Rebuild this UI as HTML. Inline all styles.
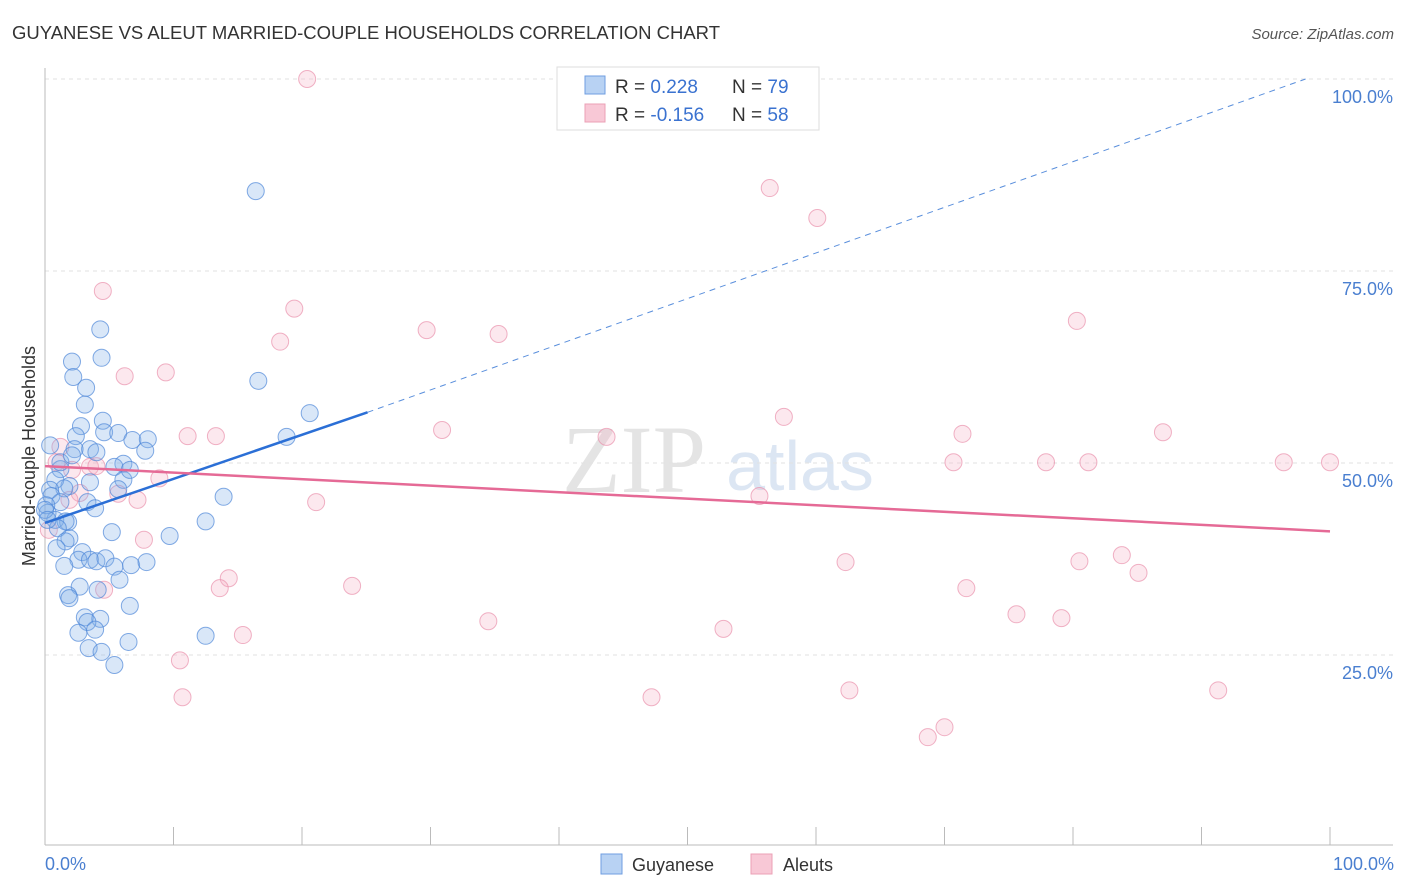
<!DOCTYPE html>
<html><head><meta charset="utf-8"><style>
body{margin:0;background:#fff;font-family:"Liberation Sans",sans-serif}
svg{display:block}
</style></head><body>
<svg id="c" width="1406" height="892" font-family="Liberation Sans, sans-serif">
<text x="12" y="39" font-size="18" fill="#333" textLength="708" lengthAdjust="spacingAndGlyphs">GUYANESE VS ALEUT MARRIED-COUPLE HOUSEHOLDS CORRELATION CHART</text>
<text x="1394" y="39" font-size="15" fill="#555" text-anchor="end" font-style="italic">Source: ZipAtlas.com</text>
<text x="634" y="492" font-size="96" fill="#e4e4e4" font-family="Liberation Serif, serif" text-anchor="middle">ZIP</text>
<text x="800" y="490" font-size="70" fill="#dce6f3" text-anchor="middle">atlas</text>
<g id="grid"></g><g id="axes"></g><g id="pts"></g><g id="trend"></g>
<text x="35" y="456" font-size="18" fill="#333" text-anchor="middle" transform="rotate(-90 35 456)">Married-couple Households</text>
<text x="45" y="870" font-size="18" fill="#4a7fd0">0.0%</text>
<text x="1394" y="870" font-size="18" fill="#4a7fd0" text-anchor="end">100.0%</text>
<g>
<rect x="557" y="67" width="262" height="63" fill="#fff" stroke="#ddd"/>
<rect x="585" y="76" width="20" height="18" fill="#b8d2f3" stroke="#6f9ee0"/>
<rect x="585" y="104" width="20" height="18" fill="#f8c8d6" stroke="#eba0b6"/>
<text x="615" y="93" font-size="19" fill="#333">R = <tspan fill="#3a72d0"> 0.228</tspan><tspan x="732">N = </tspan><tspan fill="#3a72d0">79</tspan></text>
<text x="615" y="121" font-size="19" fill="#333">R = <tspan fill="#3a72d0">-0.156</tspan><tspan x="732">N = </tspan><tspan fill="#3a72d0">58</tspan></text>
</g>
<g>
<rect x="601" y="854" width="21" height="20" fill="#b8d2f3" stroke="#6f9ee0"/>
<text x="632" y="871" font-size="18" fill="#333">Guyanese</text>
<rect x="751" y="854" width="21" height="20" fill="#f8c8d6" stroke="#eba0b6"/>
<text x="783" y="871" font-size="18" fill="#333">Aleuts</text>
</g>
</svg>
<script>
const yTicks=[100,75,50,25];
const yTickLabels=["100.0%","75.0%","50.0%","25.0%"];
const xTicks=[0,10,20,30,40,50,60,70,80,90,100];
const blueX=[4.3,4.4,2.1,2.2,3.2,3.1,4.5,2.8,2.4,4.6,5.7,6.8,8.0,7.8,3.5,4.0,2.3,6.1,5.4,1.2,6.1,3.5,5.7,1.9,0.8,1.5,0.4,0.5,3.3,1.2,0.2,0.8,1.8,1.6,1.0,5.2,1.9,1.6,0.9,2.9,2.6,1.5,3.5,4.0,4.7,5.4,6.7,7.9,5.8,2.7,4.1,1.8,1.9,6.6,3.1,4.3,3.3,2.6,3.9,6.5,3.4,4.4,5.4,9.7,12.5,13.9,12.5,16.4,16.6,18.8,20.6,0.4,0.1,0,0.2,1.2,2.1,3.9,6.6];
const blueY=[67.4,63.7,63.2,61.2,59.8,57.6,55.5,54.8,53.5,54.0,53.9,53.0,53.1,51.6,51.8,51.4,51.8,49.9,49.5,49.2,47.8,47.5,46.6,47.0,47.8,46.7,46.5,45.7,44.9,44.9,43.5,42.6,42.3,42.4,41.5,41.0,40.2,39.8,38.9,38.4,37.4,36.6,37.4,37.2,37.6,36.5,36.7,37.1,34.8,33.9,33.5,32.8,32.4,31.4,29.9,29.7,29.3,27.9,28.3,26.7,25.9,25.4,23.7,40.5,42.4,45.6,27.5,85.4,60.7,53.4,56.5,52.3,44.5,43.9,42.6,50.1,51.0,44.1,49.1];
const pinkX=[20.4,56.4,60.1,4.5,19.4,18.3,29.7,35.3,6.2,9.4,80.3,30.9,43.7,57.5,71.4,87.0,11.1,13.3,70.7,77.9,81.2,96.4,100,1.2,0.9,2.1,3.5,4.0,8.9,5.7,7.2,21.1,55.6,0.3,7.7,14.3,13.6,23.9,4.6,62.3,80.5,83.8,85.1,71.7,34.5,52.8,75.6,79.1,15.4,10.5,10.7,47.2,62.6,91.3,70.0,68.7,2.7,1.9];
const pinkY=[100,85.8,81.9,72.4,70.1,65.8,67.3,66.8,61.3,61.8,68.5,54.3,53.4,56.0,53.8,54.0,53.5,53.5,50.1,50.1,50.1,50.1,50.1,52.1,50.1,49.1,49.5,49.6,48.0,46.0,45.2,44.9,45.7,41.3,40.0,35.0,33.7,34.0,33.5,37.1,37.2,38.0,35.7,33.7,29.4,28.4,30.3,29.8,27.6,24.3,19.5,19.5,20.4,20.4,15.6,14.3,46.1,45.2];
const blueTrend=[42.2,56.6]; // value at x=0 and x=25.1
const blueTrendEndX=25.1;
const blueDashEnd=[98.1,100];
const pinkTrend=[49.6,41.1]; // at x=0 and x=100
const NS="http://www.w3.org/2000/svg";
const X=v=>45+v*12.85, Y=v=>847-v*7.68;
function mk(tag,attrs,parent){const e=document.createElementNS(NS,tag);for(const k in attrs)e.setAttribute(k,attrs[k]);document.getElementById(parent).appendChild(e);return e;}
yTicks.forEach((t,i)=>{
 const l=mk('line',{x1:45,x2:1393,y1:Y(t),y2:Y(t),stroke:'#e2e2e2','stroke-dasharray':'4,4'},'grid');
 
 
 const tx=mk('text',{x:1393,y:Y(t)+24,'font-size':18,fill:'#4a7fd0','text-anchor':'end'},'grid');
 tx.textContent=yTickLabels[i];
 
 
});
const ax=mk('line',{x1:45,x2:45,y1:68,y2:845,stroke:'#bbb'},'axes');


const bx=mk('line',{x1:45,x2:1393,y1:845,y2:845,stroke:'#bbb'},'axes');


xTicks.forEach(t=>{
 const l=mk('line',{x1:X(t),x2:X(t),y1:827,y2:845,stroke:'#bbb'},'axes');
 
 
});
function dots(xs,ys,fill,stroke,name){xs.forEach((x,i)=>{
 const c=mk('circle',{cx:X(x),cy:Y(ys[i]),r:8.5,fill:fill,stroke:stroke,'stroke-width':1,'stroke-opacity':0.7},'pts');
 
 
});}
dots(pinkX,pinkY,'rgba(246,172,194,0.28)','#e992ad','aleuts-point');
dots(blueX,blueY,'rgba(128,174,232,0.3)','#4f88d9','guyanese-point');
const bt=mk('line',{x1:X(0),y1:Y(blueTrend[0]),x2:X(blueTrendEndX),y2:Y(blueTrend[1]),stroke:'#2b6fd6','stroke-width':2.5},'trend');


const bd=mk('line',{x1:X(blueTrendEndX),y1:Y(blueTrend[1]),x2:X(blueDashEnd[0]),y2:Y(blueDashEnd[1]),stroke:'#5a8fdc','stroke-width':1,'stroke-dasharray':'6,5'},'trend');


const pt=mk('line',{x1:X(0),y1:Y(pinkTrend[0]),x2:X(100),y2:Y(pinkTrend[1]),stroke:'#e56a96','stroke-width':2.5},'trend');


</script>
</body></html>
